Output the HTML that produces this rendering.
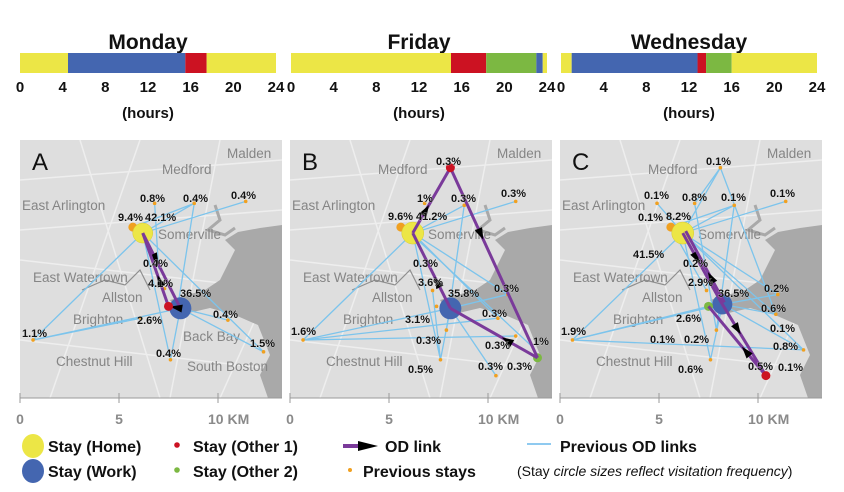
<!DOCTYPE html>
<html><head><meta charset="utf-8">
<style>
body{margin:0;background:#fff;width:844px;height:492px;overflow:hidden;font-family:"Liberation Sans",sans-serif}
svg{position:absolute;left:0;top:0}
.nar{font-family:"Liberation Sans Narrow","Liberation Sans",sans-serif}
</style></head>
<body>
<svg id="fig" width="844" height="492" viewBox="0 0 844 492"></svg>
<script>
// ---- timeline data ----
const dayNames = ["Monday","Friday","Wednesday"];
const mondayStarts = [0,4.5,15.5,17.5];
const mondayEnds   = [4.5,15.5,17.5,24];
const mondayTypes  = ["home","work","other1","home"];
const fridayStarts = [0,15,18.3,23,23.6];
const fridayEnds   = [15,18.3,23,23.6,24];
const fridayTypes  = ["home","other1","other2","work","home"];
const wednesdayStarts = [0,1,12.8,13.6,16];
const wednesdayEnds   = [1,12.8,13.6,16,24];
const wednesdayTypes  = ["home","work","other1","other2","home"];
const hourTicks = [0,4,8,12,16,20,24];
const kmTicks = [0,5,10];
const kmTickLabels = ["0","5","10 KM"];

// ---- map data (km coordinates: x from left, y from top) ----
const homeA=[6.2,4.7], workA=[8.1,8.5], other1A=[7.5,8.4];
const prevStaysA=[[6.8,3.2],[8.8,3.2],[11.4,3.1],[0.66,10.1],[10.5,9.1],[12.3,10.7],[7.6,11.1],[7.3,7.5],[6.1,9.0]];
const nearHomeA=[5.7,4.4];
const prevLinksA=[[6.2,4.7,0.66,10.1],[8.1,8.5,0.66,10.1],[6.2,4.7,8.8,3.2],[8.8,3.2,8.0,8.2],[6.2,4.7,11.4,3.1],[6.2,4.7,12.3,10.7],[8.1,8.5,12.3,10.7],[8.1,8.5,10.5,9.1],[8.1,8.5,7.6,11.1],[6.2,4.7,7.6,11.1],[6.1,9.0,0.66,10.1],[5.7,4.4,8.8,3.2],[6.8,3.2,7.0,6.5],[6.2,4.7,8.1,8.5]];
const odA=[[6.2,4.7,8.1,8.5],[8.1,8.5,7.5,8.4],[7.5,8.4,6.2,4.7]];

const homeB=[6.2,4.7], workB=[8.1,8.5], other1B=[8.1,1.4], other2B=[12.5,11.0];
const prevStaysB=[[6.8,3.2],[8.8,3.3],[11.4,3.1],[7.2,7.6],[7.4,8.4],[0.66,10.1],[11,7.8],[10.5,9.0],[11.4,9.9],[7.6,11.1],[10.4,11.9],[7.9,9.6]];
const nearHomeB=[5.6,4.4];
const prevLinksB=[[6.2,4.7,0.66,10.1],[8.1,8.5,0.66,10.1],[0.66,10.1,11.4,9.9],[0.66,10.1,10.5,9.0],[6.2,4.7,8.8,3.3],[8.8,3.3,7.9,9.6],[6.2,4.7,11.4,3.1],[6.2,4.7,11,7.8],[6.2,4.7,10.5,9.0],[8.1,8.5,10.4,11.9],[6.2,4.7,7.6,11.1],[8.1,8.5,7.6,11.1],[6.2,4.7,8.1,8.5],[7.2,7.6,7.6,11.1],[8.1,8.5,11,7.8],[6.4,5.0,12.3,10.5]];
const odB=[[6.2,4.7,8.1,1.4],[8.1,1.4,12.5,11.0],[12.5,11.0,8.1,8.5],[8.1,8.5,6.2,4.7]];

const homeC=[6.2,4.7], workC=[8.2,8.3], other1C=[10.4,11.9], other2C=[7.5,8.4];
const prevStaysC=[[8.1,1.4],[4.9,3.2],[6.8,3.2],[8.8,3.3],[11.4,3.1],[7.4,7.6],[0.63,10.1],[11,7.8],[10.9,8.8],[12.3,10.6],[7.9,9.6],[7.6,11.1]];
const nearHomeC=[5.6,4.4];
const prevLinksC=[[6.2,4.7,8.1,1.4],[8.1,1.4,6.8,3.2],[4.9,3.2,6.2,4.7],[6.2,4.7,8.8,3.3],[8.8,3.3,7.9,9.6],[6.2,4.7,11.4,3.1],[0.63,10.1,6.2,4.7],[0.63,10.1,8.2,8.3],[0.63,10.1,12.3,10.6],[0.63,10.1,7.5,8.4],[6.2,4.7,11,7.8],[6.2,4.7,10.9,8.8],[6.2,4.7,12.3,10.6],[8.2,8.3,11,7.8],[8.2,8.3,10.9,8.8],[8.2,8.3,12.3,10.6],[8.2,8.3,7.6,11.1],[6.2,4.7,7.6,11.1],[8.1,1.4,10.9,8.8],[6.8,3.2,7.9,9.6],[8.8,3.3,5.6,4.4],[5.6,4.4,7.4,7.6]];
const odC=[[6.2,4.7,8.2,8.3],[8.3,8.2,6.35,4.6],[8.2,8.3,10.4,11.9],[10.4,11.9,7.5,8.4]];

// percent labels [text, local x px, local y px]
const pctA=[["0.8%",120,62],["0.4%",163,62],["0.4%",211,59],["9.4%",98,81],["42.1%",125,81],["0.4%",123,127],["4.1%",128,147],["36.5%",160,157],["0.4%",193,178],["2.6%",117,184],["1.1%",2,197],["1.5%",230,207],["0.4%",136,217]];
const pctB=[["0.3%",146,25],["1%",127,62],["0.3%",161,62],["0.3%",211,57],["9.6%",98,80],["41.2%",126,80],["0.3%",123,127],["3.6%",128,146],["35.8%",158,157],["0.3%",204,152],["0.3%",192,177],["3.1%",115,183],["1.6%",1,195],["0.3%",126,204],["0.3%",195,209],["1%",243,205],["0.5%",118,233],["0.3%",188,230],["0.3%",217,230]];
const pctC=[["0.1%",146,25],["0.1%",84,59],["0.8%",122,61],["0.1%",161,61],["0.1%",210,57],["0.1%",78,81],["8.2%",106,80],["41.5%",73,118],["0.2%",123,127],["2.9%",128,146],["36.5%",158,157],["0.2%",204,152],["0.6%",201,172],["2.6%",116,182],["1.9%",1,195],["0.1%",210,192],["0.1%",90,203],["0.2%",124,203],["0.8%",213,210],["0.5%",188,230],["0.1%",218,231],["0.6%",118,233]];

const colors={home:"#ece646",work:"#4466b0",other1:"#cc1222",other2:"#7cb842"};
const NS="http://www.w3.org/2000/svg";
const svg=document.getElementById('fig');
function el(tag,attrs,parent){const e=document.createElementNS(NS,tag);for(const k in attrs)e.setAttribute(k,attrs[k]);(parent||svg).appendChild(e);return e;}

// ---- timelines ----
const barLefts=[20,291,561], barW=256;
const segS=[mondayStarts,fridayStarts,wednesdayStarts], segE=[mondayEnds,fridayEnds,wednesdayEnds], segT=[mondayTypes,fridayTypes,wednesdayTypes];
dayNames.forEach((d,i)=>{
  const g=el('g',{});
  
  
  const hx=h=>barLefts[i]+h/24*barW;
  const t=el('text',{x:barLefts[i]+barW/2,y:49,'text-anchor':'middle','font-size':21,'font-weight':'bold',fill:'#111',class:'nar'},g);
  t.textContent=d;
  
  
  segS[i].forEach((s,j)=>{
    const r=el('rect',{x:hx(s),y:53,width:hx(segE[i][j])-hx(s),height:20,fill:colors[segT[i][j]]},g);
    
    
  });
  hourTicks.forEach(h=>{
    const tt=el('text',{x:hx(h),y:92,'text-anchor':'middle','font-size':15,'font-weight':'bold',fill:'#111',class:'nar'},g);
    tt.textContent=h;
    
    
  });
  const hl=el('text',{x:barLefts[i]+barW/2,y:118,'text-anchor':'middle','font-size':15,'font-weight':'bold',fill:'#111',class:'nar'},g);
  hl.textContent='(hours)';
  
  
});

// ---- maps ----
const panelLefts=[20,290,560], panelTop=140, panelW=262, panelH=258, kmPx=19.8;
const panels=[
 {letter:"A",home:homeA,work:workA,o1:other1A,o2:null,prev:prevStaysA,near:nearHomeA,links:prevLinksA,od:odA,pct:pctA,medford:142,extra:true,homeR:10,workR:11},
 {letter:"B",home:homeB,work:workB,o1:other1B,o2:other2B,prev:prevStaysB,near:nearHomeB,links:prevLinksB,od:odB,pct:pctB,medford:88,extra:false,homeR:11,workR:11},
 {letter:"C",home:homeC,work:workC,o1:other1C,o2:other2C,prev:prevStaysC,near:nearHomeC,links:prevLinksC,od:odC,pct:pctC,medford:88,extra:false,homeR:11,workR:10}
];
const defs=el('defs',{});
const mk=el('marker',{id:'arr',viewBox:'0 0 10 10',refX:5,refY:5,markerWidth:4.5,markerHeight:4.5,orient:'auto',markerUnits:'strokeWidth'},defs);
el('path',{d:'M0,1 L10,5 L0,9 z',fill:'#000'},mk);
panels.forEach((p,i)=>{
  const L=panelLefts[i];
  const X=k=>L+k*kmPx, Y=k=>panelTop+k*kmPx;
  const g=el('g',{});
  
  
  const cp=el('clipPath',{id:'cp'+i},defs);
  el('rect',{x:L,y:panelTop,width:panelW,height:panelH},cp);
  const bg=el('g',{'clip-path':'url(#cp'+i+')'},g);
  el('rect',{x:L,y:panelTop,width:panelW,height:panelH,fill:'#dedede'},bg);
  // roads
  [[0,40,262,20],[0,120,262,150],[30,258,120,0],[150,258,200,0],[0,200,262,230],[60,0,140,258],[0,90,262,70],[200,258,262,120]].forEach(r=>{
    el('line',{x1:L+r[0],y1:panelTop+r[1],x2:L+r[2],y2:panelTop+r[3],stroke:'#eeeeee','stroke-width':1.5},bg);
  });
  // water
  el('path',{d:`M${L+150},${panelTop+160} L${L+185},${panelTop+150} L${L+200},${panelTop+140} L${L+215},${panelTop+110} L${L+205},${panelTop+100} L${L+218},${panelTop+92} L${L+240},${panelTop+88} L${L+262},${panelTop+85} L${L+262},${panelTop+258} L${L+248},${panelTop+258} L${L+240},${panelTop+235} L${L+250},${panelTop+215} L${L+238},${panelTop+185} L${L+215},${panelTop+175} L${L+190},${panelTop+168} L${L+160},${panelTop+175} Z`,fill:'#a9a9a9'},bg);
  el('path',{d:`M${L+195},${panelTop+65} L${L+200},${panelTop+80} L${L+188},${panelTop+90} L${L+205},${panelTop+95} L${L+215},${panelTop+88}`,fill:'none',stroke:'#a9a9a9','stroke-width':3},bg);
  el('path',{d:`M${L+62},${panelTop+150} L${L+85},${panelTop+140} L${L+105},${panelTop+145} L${L+120},${panelTop+130} L${L+130},${panelTop+150}`,fill:'none',stroke:'#8f8f8f','stroke-width':1.2},bg);
  // place names
  const places=[["Malden",207,18],["Medford",p.medford,34],["East Arlington",2,70],["Somerville",138,99],["East Watertown",13,142],["Allston",82,162],["Brighton",53,184],["Chestnut Hill",36,226]];
  if(p.extra){places.push(["Back Bay",163,201]);places.push(["South Boston",167,231]);}
  places.forEach(pl=>{
    const t=el('text',{x:L+pl[1],y:panelTop+pl[2],'font-size':13.5,fill:'#858585'},g);
    t.textContent=pl[0];
    
    
  });
  const lt=el('text',{x:L+12,y:panelTop+30,'font-size':24,fill:'#111'},g);
  lt.textContent=p.letter;
  
  
  // previous links
  p.links.forEach(l=>{
    const ln=el('line',{x1:X(l[0]),y1:Y(l[1]),x2:X(l[2]),y2:Y(l[3]),stroke:'#7cc4ec','stroke-width':1.3},g);
    
    
  });
  p.prev.forEach(s=>{
    const c=el('circle',{cx:X(s[0]),cy:Y(s[1]),r:1.8,fill:'#f0a020'},g);
    
    
  });
  const nh=el('circle',{cx:X(p.near[0]),cy:Y(p.near[1]),r:4.5,fill:'#f0a020'},g);
  
  
  // stays
  const hc=el('circle',{cx:X(p.home[0]),cy:Y(p.home[1]),r:p.homeR,fill:colors.home,stroke:'#d8cc30','stroke-width':0.5},g);
  
  
  const wc=el('circle',{cx:X(p.work[0]),cy:Y(p.work[1]),r:p.workR,fill:colors.work},g);
  
  
  if(p.o2){const c=el('circle',{cx:X(p.o2[0]),cy:Y(p.o2[1]),r:4.5,fill:colors.other2},g);
    
    }
  // OD links
  p.od.forEach(l=>{
    const ln=el('line',{x1:X(l[0]),y1:Y(l[1]),x2:X(l[2]),y2:Y(l[3]),stroke:'#7a3a9a','stroke-width':3},g);
    
    
    const mx=X(l[0])+(X(l[2])-X(l[0]))*0.35, my=Y(l[1])+(Y(l[3])-Y(l[1]))*0.35;
    const ang=Math.atan2(Y(l[3])-Y(l[1]),X(l[2])-X(l[0]));
    const a=el('path',{d:'M6,0 L-6,-4 L-6,4 Z',fill:'#000',transform:`translate(${mx},${my}) rotate(${ang*180/Math.PI})`},g);
    
    
  });
  const o1=el('circle',{cx:X(p.o1[0]),cy:Y(p.o1[1]),r:4.5,fill:colors.other1},g);
  
  
  // percent labels
  p.pct.forEach(t=>{
    const tx=el('text',{x:L+t[1],y:panelTop+t[2],'font-size':11,'font-weight':'bold',fill:'#111',stroke:'#eee','stroke-width':0.4,'paint-order':'stroke'},g);
    tx.textContent=t[0];
    
    
  });
  // scale bar
  const sb=el('g',{},g);
  
  
  el('line',{x1:L,y1:398,x2:L+panelW,y2:398,stroke:'#999','stroke-width':1},sb);
  kmTicks.forEach((k,j)=>{
    el('line',{x1:X(k),y1:393,x2:X(k),y2:403,stroke:'#999','stroke-width':1},sb);
    const t=el('text',{x:X(k),y:424,'text-anchor':j==2?'start':'middle','font-size':14,'font-weight':'bold',fill:'#8a8a8a'},sb);
    if(j==2)t.setAttribute('x',X(k)-10);
    t.textContent=kmTickLabels[j];
    
    
  });
});

// ---- legend ----
const lg=el('g',{});


function ltext(x,y,s,name,extra){const t=el('text',Object.assign({x:x,y:y,'font-size':16,'font-weight':'bold',fill:'#111',class:'nar'},extra||{}),lg);t.textContent=s;return t;}
el('ellipse',{cx:33,cy:446,rx:11,ry:12,fill:colors.home},lg);
ltext(48,452,"Stay (Home)","legend-home");
el('ellipse',{cx:33,cy:471,rx:11,ry:12,fill:colors.work},lg);
ltext(48,477,"Stay (Work)","legend-work");
el('circle',{cx:177,cy:445,r:2.8,fill:colors.other1},lg);
ltext(193,452,"Stay (Other 1)","legend-other-1");
el('circle',{cx:177,cy:470,r:2.8,fill:colors.other2},lg);
ltext(193,477,"Stay (Other 2)","legend-other-2");
el('line',{x1:343,y1:446,x2:362,y2:446,stroke:'#7a3a9a','stroke-width':4},lg);
el('path',{d:'M358,441 L378,446 L358,451 Z',fill:'#000'},lg);
ltext(385,452,"OD link","legend-od-link");
el('circle',{cx:350,cy:470,r:2,fill:'#f0a020'},lg);
ltext(363,477,"Previous stays","legend-previous-stays");
el('line',{x1:527,y1:444,x2:551,y2:444,stroke:'#8fcaf0','stroke-width':2},lg);
ltext(560,452,"Previous OD links","legend-previous-od-links");
const nt=el('text',{x:517,y:476,'font-size':14,fill:'#111',class:'nar'},lg);


nt.innerHTML='(Stay <tspan font-style="italic">circle sizes reflect visitation frequency</tspan>)';
</script>
</body></html>
